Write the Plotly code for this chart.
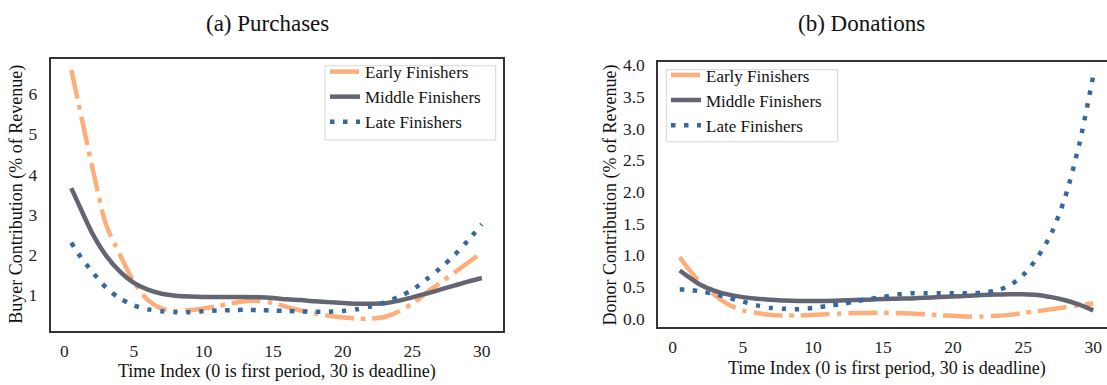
import plotly.graph_objects as go

W, H = 1107, 385

# ---------------- data ----------------
time_index = [0.5] + list(range(1, 31))

purch_early = [6.60, 5.80, 4.20, 2.75, 2.00, 1.32, 0.87, 0.66, 0.60, 0.62, 0.66,
               0.72, 0.79, 0.84, 0.85, 0.80, 0.70, 0.61, 0.54, 0.48, 0.44,
               0.41, 0.41, 0.45, 0.58, 0.78, 1.05, 1.30, 1.55, 1.80, 2.05]
purch_middle = [3.66, 3.28, 2.54, 1.98, 1.58, 1.30, 1.13, 1.03, 0.98, 0.96, 0.95,
                0.95, 0.95, 0.95, 0.94, 0.92, 0.89, 0.87, 0.84, 0.82, 0.80,
                0.78, 0.78, 0.79, 0.85, 0.94, 1.03, 1.13, 1.23, 1.33, 1.42]
purch_late = [2.30, 2.03, 1.58, 1.18, 0.91, 0.74, 0.64, 0.59, 0.57, 0.57, 0.59,
              0.61, 0.62, 0.63, 0.62, 0.61, 0.60, 0.59, 0.58, 0.58, 0.60,
              0.64, 0.71, 0.81, 0.95, 1.12, 1.38, 1.66, 1.98, 2.35, 2.76]

don_early = [0.97, 0.82, 0.56, 0.37, 0.22, 0.13, 0.09, 0.06, 0.05, 0.05, 0.06,
             0.07, 0.08, 0.09, 0.09, 0.095, 0.09, 0.08, 0.07, 0.055, 0.045,
             0.035, 0.035, 0.045, 0.06, 0.09, 0.12, 0.15, 0.18, 0.21, 0.24]
don_middle = [0.76, 0.68, 0.53, 0.44, 0.38, 0.34, 0.315, 0.30, 0.285, 0.28, 0.28,
              0.28, 0.285, 0.295, 0.30, 0.31, 0.315, 0.32, 0.33, 0.34, 0.35,
              0.36, 0.375, 0.38, 0.385, 0.385, 0.375, 0.34, 0.29, 0.22, 0.13]
don_late = [0.46, 0.46, 0.43, 0.39, 0.33, 0.27, 0.21, 0.17, 0.155, 0.15, 0.17,
            0.20, 0.23, 0.27, 0.31, 0.34, 0.38, 0.40, 0.40, 0.40, 0.40,
            0.40, 0.41, 0.44, 0.52, 0.69, 0.96, 1.34, 1.92, 2.75, 3.83]

series_names = ["Early Finishers", "Middle Finishers", "Late Finishers"]
panel_titles = ["(a) Purchases", "(b) Donations"]
x_title = "Time Index (0 is first period, 30 is deadline)"
y_titles = ["Buyer Contribution (% of Revenue)", "Donor Contribution (% of Revenue)"]
x_ticks = [0, 5, 10, 15, 20, 25, 30]
y_ticks_left = [1, 2, 3, 4, 5, 6]
y_ticks_right = [0.0, 0.5, 1.0, 1.5, 2.0, 2.5, 3.0, 3.5, 4.0]

# ---------------- styles ----------------
FONT = "Liberation Serif"
FS = 17.5
colors = ["#fdae7a", "#636572", "#35689f"]
dashes = ["29px,7px,4.5px,7px", "solid", "4.5px,8.5px"]
LW = 4.5
FRAME = "#333333"


def px_x(p):
    return p / W


def px_y(p):
    return 1 - p / H


fig = go.Figure()

panels = [
    ("x", "y", "legend", [purch_early, purch_middle, purch_late]),
    ("x2", "y2", "legend2", [don_early, don_middle, don_late]),
]
for xa, ya, lg, data in panels:
    for name, vals, c, d in zip(series_names, data, colors, dashes):
        fig.add_trace(go.Scatter(
            x=time_index, y=vals, name=name, mode="lines",
            line=dict(color=c, width=LW, dash=d, shape="spline", smoothing=0.8),
            xaxis=xa, yaxis=ya, legend=lg, showlegend=True,
        ))

axis_common = dict(
    showgrid=False, zeroline=False, showline=True, linecolor=FRAME, linewidth=2,
    ticks="outside", tickcolor="rgba(0,0,0,0)",
    tickfont=dict(family=FONT, size=FS, color="#222"),
)

legend_common = dict(
    xanchor="left", yanchor="top", bgcolor="rgba(0,0,0,0)",
    bordercolor="rgba(0,0,0,0)", borderwidth=0,
    font=dict(family=FONT, size=17, color="#111"),
)

fig.update_layout(
    width=W, height=H,
    margin=dict(l=0, r=0, t=0, b=0),
    paper_bgcolor="white", plot_bgcolor="white",
    font=dict(family=FONT, size=FS, color="#111"),
    xaxis=dict(domain=[px_x(50.7), px_x(502.7)], range=[-0.98, 31.5],
               tickvals=x_ticks, mirror=True, ticklen=3, anchor="y", **axis_common),
    yaxis=dict(domain=[px_y(330.7), px_y(52.7)], range=[0.105, 6.885],
               tickvals=y_ticks_left, mirror=True, ticklen=8, anchor="x", **axis_common),
    xaxis2=dict(domain=[px_x(658.3), 1.0], range=[-1.03, 30.98],
                tickvals=x_ticks, mirror=True, ticklen=3, anchor="y2", **axis_common),
    yaxis2=dict(domain=[px_y(327.3), px_y(56)], range=[-0.139, 4.05],
                tickvals=y_ticks_right, tickformat=".1f", mirror=False, ticklen=8,
                anchor="x2", **axis_common),
    legend=dict(x=px_x(325), y=px_y(48), **legend_common),
    legend2=dict(x=px_x(666), y=px_y(51.5), **legend_common),
)

# legend frames (matplotlib-style light boxes)
for (x0, x1, y0, y1) in [(325, 495.7, 60, 135.7), (666.3, 837.7, 64, 137.7)]:
    fig.add_shape(type="rect", xref="paper", yref="paper",
                  x0=px_x(x0), x1=px_x(x1), y0=px_y(y1), y1=px_y(y0),
                  fillcolor="rgba(255,255,255,0.85)",
                  line=dict(color="#d6d6d6", width=1), layer="above")

annotations = [
    dict(text=panel_titles[0], x=px_x(267.5), y=px_y(17), size=23),
    dict(text=panel_titles[1], x=px_x(861.7), y=px_y(17), size=23),
    dict(text=x_title, x=px_x(277), y=px_y(372), size=18),
    dict(text=x_title, x=px_x(887), y=px_y(369), size=18),
    dict(text=y_titles[0], x=px_x(15.7), y=px_y(191), textangle=-90, size=18),
    dict(text=y_titles[1], x=px_x(610), y=px_y(192.5), textangle=-90, size=18),
]
for a in annotations:
    size = a.pop("size")
    fig.add_annotation(xref="paper", yref="paper", showarrow=False,
                       xanchor="center", yanchor="middle",
                       font=dict(family=FONT, size=size, color="#111"), **a)

fig.write_html("out.html")
